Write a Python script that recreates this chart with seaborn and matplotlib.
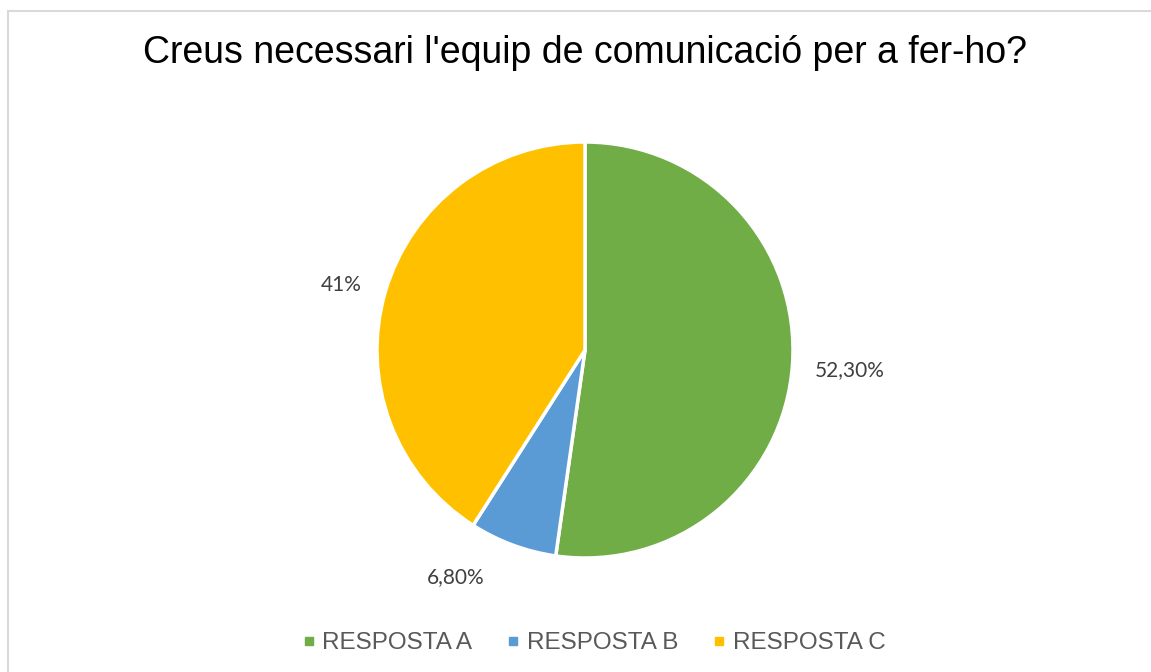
import matplotlib
matplotlib.use("Agg")
from matplotlib import pyplot as plt
from matplotlib.lines import Line2D
from matplotlib.patches import Rectangle
import seaborn as sns

# chart data
categories = ["RESPOSTA A", "RESPOSTA B", "RESPOSTA C"]
shares = [52.3, 6.8, 41.0]
share_labels = ["52,30%", "6,80%", "41%"]
colors = ["#70AD47", "#5B9BD5", "#FFC000"]
title = "Creus necessari l'equip de comunicació per a fer-ho?"

sns.set_theme(style="white")
plt.rcParams["font.family"] = ["Liberation Sans", "DejaVu Sans"]

W, H = 1151, 672
fig = plt.figure(figsize=(W / 100, H / 100), dpi=100)
fig.patch.set_facecolor("white")

# axes in pixel units, y going up
ax = fig.add_axes([0, 0, 1, 1])

# light chart-area border (runs off the right and bottom edges)
ax.add_patch(Rectangle((8.5, -5), W, H - 10.5 + 5, fill=False,
                       edgecolor="#d9d9d9", linewidth=1.5))

wedges, texts = ax.pie(
    shares, colors=colors, labels=share_labels, startangle=90,
    counterclock=False, center=(585, H - 350), radius=208,
    labeldistance=1.26, frame=True,
    wedgeprops=dict(edgecolor="white", linewidth=2.5),
    textprops=dict(fontsize=15, color="#404040", family=["Lato", "DejaVu Sans"]),
)
# excel "best fit" label spots
label_spots = [(850, H - 370), (456, H - 577), (341, H - 285)]
for t, pos in zip(texts, label_spots):
    t.set_position(pos)
    t.set_horizontalalignment("center")
    t.set_verticalalignment("center")
ax.set_xlim(0, W)
ax.set_ylim(0, H)
ax.axis("off")
ax.set_aspect("auto")

fig.text(585 / W, 1 - 53 / H, title, ha="center", va="center",
         fontsize=27, color="black")

handles = [Line2D([], [], marker="s", linestyle="", markersize=6,
                  markerfacecolor=c, markeredgecolor=c) for c in colors]
fig.legend(handles, categories, loc="center", ncol=3,
           bbox_to_anchor=(591 / W, 1 - 643 / H), frameon=False,
           fontsize=17.5, labelcolor="#595959", handletextpad=0.05,
           columnspacing=1.2, handlelength=1.0)

fig.savefig("out.png", dpi=100, facecolor="white")
